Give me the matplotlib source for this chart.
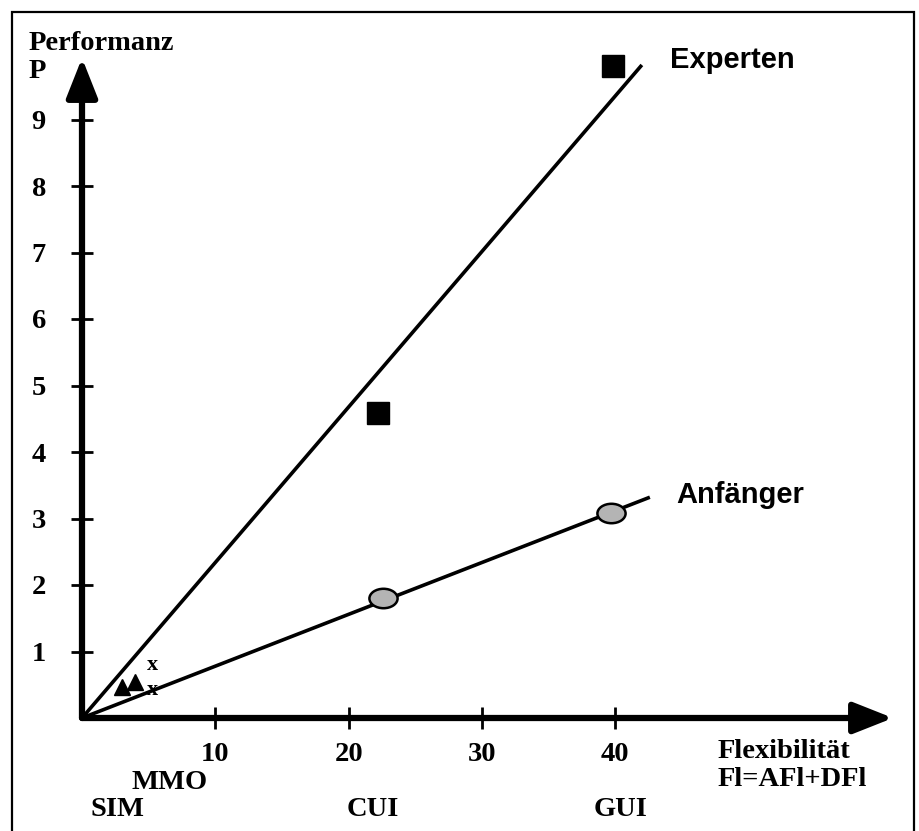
import matplotlib.pyplot as plt
from matplotlib.markers import MarkerStyle
from matplotlib.patches import Rectangle
from matplotlib.transforms import Affine2D

# Messpunkte
experten_x = [22.2, 39.8]
experten_y = [4.58, 9.8]
anfaenger_x = [22.6, 39.7]
anfaenger_y = [1.8, 3.08]
sim_x = [3.0, 4.0]
sim_y = [0.46, 0.54]

# Regressionsgeraden
exp_line_x = [0, 42.0]
exp_line_y = [0, 9.82]
anf_line_x = [0, 42.6]
anf_line_y = [0, 3.32]

xticks = [10, 20, 30, 40]
yticks = [1, 2, 3, 4, 5, 6, 7, 8, 9]

schnittstellen = ['SIM', 'MMO', 'CUI', 'GUI']
schnitt_x = [2.7, 6.6, 21.8, 40.4]
schnitt_zeile = [1, 0, 1, 1]

serif = 'Liberation Serif'
sans = 'Liberation Sans'
fs = 20.5

W, H = 919, 831
fig = plt.figure(figsize=(W / 100, H / 100), dpi=100)
ax = fig.add_axes([82 / W, (H - 718) / H, (893 - 82) / W, (718 - 58) / H])
xmax = (893 - 82) / 13.33
ymax = (718 - 58) / 66.5
ax.set_xlim(0, xmax)
ax.set_ylim(0, ymax)
for s in ax.spines.values():
    s.set_visible(False)

# Achsen mit Pfeilen
pfeil = dict(arrowstyle='-|>,head_length=2.4,head_width=0.95', lw=4.5, color='k',
             shrinkA=0, shrinkB=0, mutation_scale=10)
ax.annotate('', xy=(xmax, 0), xytext=(0, 0), arrowprops=pfeil, annotation_clip=False)
ax.annotate('', xy=(0, ymax), xytext=(0, 0), arrowprops=pfeil, annotation_clip=False)

ax.set_xticks(xticks)
ax.set_yticks(yticks)
ax.tick_params(direction='inout', length=16, width=2, labelsize=fs)
ax.tick_params(axis='y', pad=18)
ax.tick_params(axis='x', pad=9)
for lab in ax.get_xticklabels() + ax.get_yticklabels():
    lab.set_fontfamily(serif)
    lab.set_fontweight('bold')

# Geraden und Punkte
ax.plot(exp_line_x, exp_line_y, color='k', lw=2.6, solid_capstyle='butt')
ax.plot(anf_line_x, anf_line_y, color='k', lw=2.6, solid_capstyle='butt')
ax.plot(experten_x, experten_y, 's', color='k', ms=16, clip_on=False)
ellipse = MarkerStyle('o', transform=Affine2D().scale(1.45, 1.0))
ax.plot(anfaenger_x, anfaenger_y, ls='none', marker=ellipse, ms=14,
        mfc='#b4b4b4', mec='k', mew=1.8)
ax.plot(sim_x, sim_y, '^', color='k', ms=12)
ax.text(5.3, 0.8, 'x', fontsize=16, fontfamily=serif, fontweight='bold', ha='center', va='center')
ax.text(5.3, 0.42, 'x', fontsize=16, fontfamily=serif, fontweight='bold', ha='center', va='center')

ax.text(44.1, 9.9, 'Experten', fontsize=21, fontfamily=sans, fontweight='bold', va='center')
ax.text(44.6, 3.35, 'Anfänger', fontsize=21, fontfamily=sans, fontweight='bold', va='center')

tr = ax.get_xaxis_transform()
for name, x, z in zip(schnittstellen, schnitt_x, schnitt_zeile):
    y = -0.097 if z == 0 else -0.139
    ax.text(x, y, name, transform=tr, fontsize=fs, fontfamily=serif, fontweight='bold',
            ha='center', va='center')

def ftext(px, py, s, **kw):
    fig.text(px / W, 1 - py / H, s, fontsize=fs, fontfamily=serif, fontweight='bold',
             va='center', **kw)

ftext(29, 44, 'Performanz')
ftext(29, 72, 'P')
ftext(718, 752, 'Flexibilität')
ftext(718, 780, 'Fl=AFl+DFl')

# Rahmen
fig.patches.append(Rectangle((12 / W, -0.01), (914 - 12) / W, 1.01 - 12 / H,
                             transform=fig.transFigure, fill=False, lw=1.6, ec='k'))

fig.savefig('out.png', dpi=100)
